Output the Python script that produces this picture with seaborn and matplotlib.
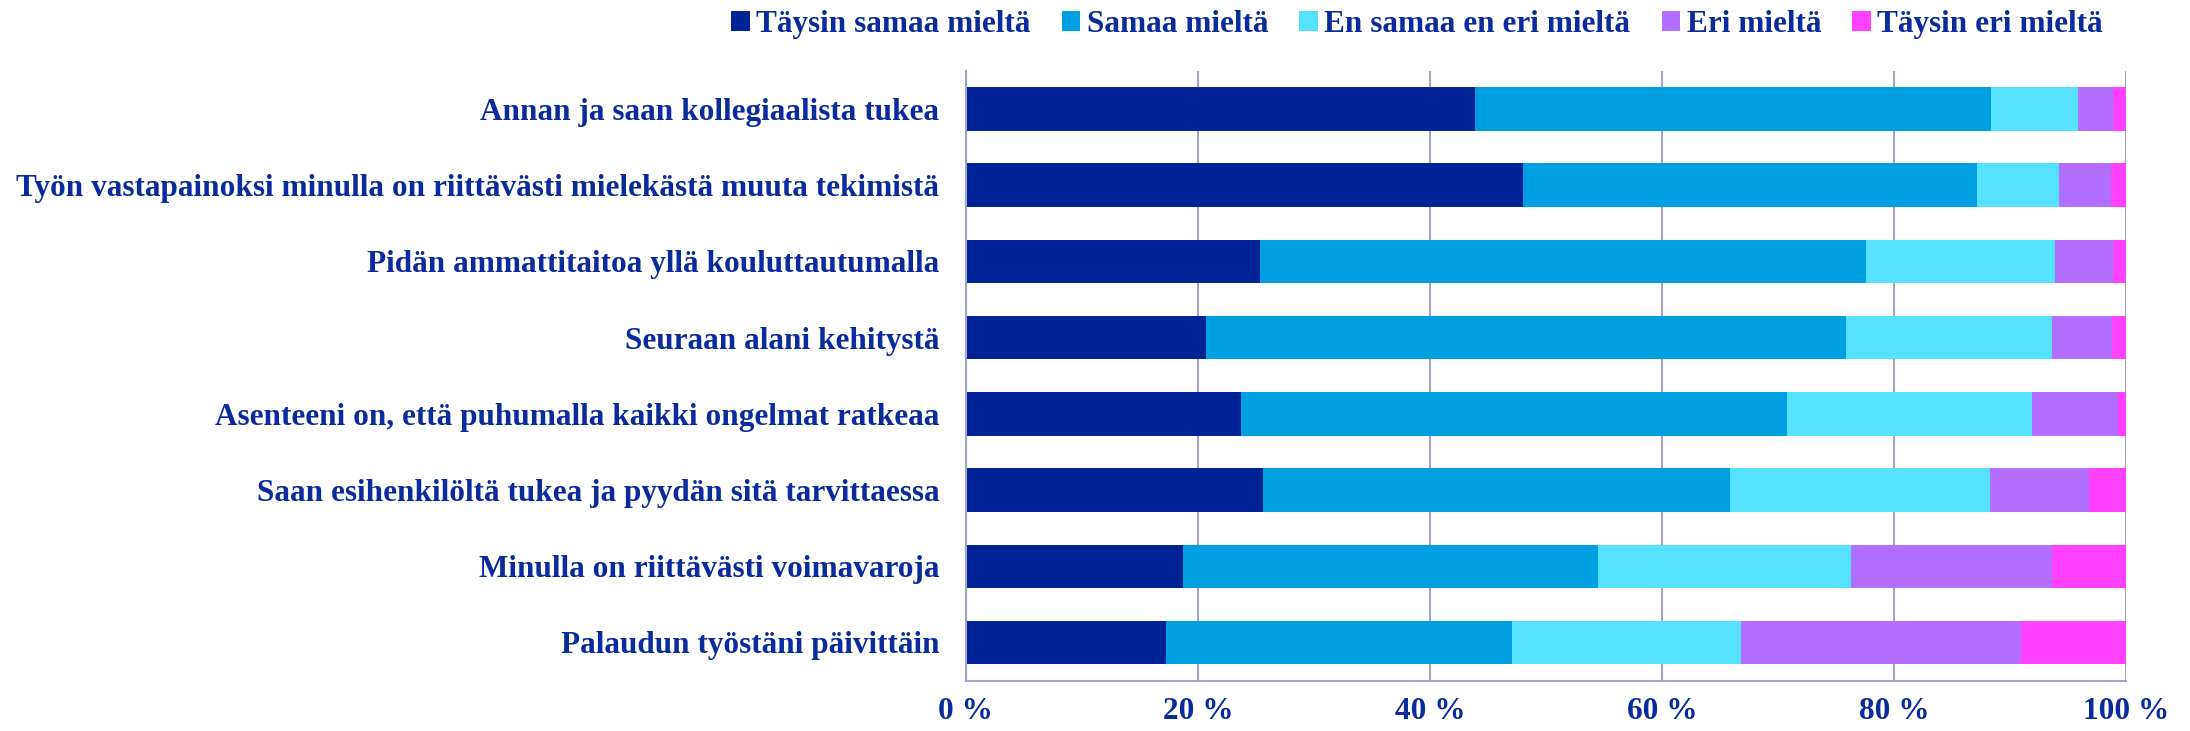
import matplotlib
matplotlib.use("Agg")
import matplotlib.pyplot as plt
from matplotlib.patches import Patch
import numpy as np
import pandas as pd
import seaborn as sns

# Väittämät (ylhäältä alas)
statements = [
    "Annan ja saan kollegiaalista tukea",
    "Työn vastapainoksi minulla on riittävästi mielekästä muuta tekimistä",
    "Pidän ammattitaitoa yllä kouluttautumalla",
    "Seuraan alani kehitystä",
    "Asenteeni on, että puhumalla kaikki ongelmat ratkeaa",
    "Saan esihenkilöltä tukea ja pyydän sitä tarvittaessa",
    "Minulla on riittävästi voimavaroja",
    "Palaudun työstäni päivittäin",
]

answers = ["Täysin samaa mieltä", "Samaa mieltä", "En samaa en eri mieltä",
           "Eri mieltä", "Täysin eri mieltä"]

# osuudet prosentteina, luettu kuvasta
taysin_samaa = [43.9, 48.0, 25.4, 20.7, 23.7, 25.6, 18.7, 17.3]
samaa = [44.5, 39.2, 52.2, 55.2, 47.1, 40.3, 35.8, 29.8]
neutraali = [7.5, 7.0, 16.3, 17.7, 21.1, 22.4, 21.8, 19.7]
eri = [3.0, 4.5, 5.0, 5.2, 7.4, 8.5, 17.3, 24.2]
taysin_eri = [1.1, 1.3, 1.1, 1.2, 0.7, 3.2, 6.4, 9.0]

colors = ["#002395", "#00A0E0", "#55E2FF", "#B26FFF", "#FF40FF"]
text_color = "#0B2A9C"
grid_color = "#A3A3C4"
FS = 22.5

df = pd.DataFrame({
    "statement": statements,
    answers[0]: taysin_samaa,
    answers[1]: samaa,
    answers[2]: neutraali,
    answers[3]: eri,
    answers[4]: taysin_eri,
})
# skaalataan 100 %:iin ja lasketaan kumulatiiviset summat
vals = df[answers].to_numpy()
vals = vals / vals.sum(axis=1, keepdims=True) * 100
cum = np.cumsum(vals, axis=1)

sns.set_style("white")
plt.rcParams["font.family"] = ["Liberation Serif", "DejaVu Serif"]

fig = plt.figure(figsize=(21.9, 7.31), dpi=100)
ax = fig.add_axes([0.441, 0.069, 0.5297, 0.834])

# piirretään pisimmästä lyhimpään, jolloin palkit pinoutuvat
for i in reversed(range(len(answers))):
    sns.barplot(x=cum[:, i], y=statements, orient="h", color=colors[i],
                saturation=1, width=0.57, edgecolor="none", linewidth=0, ax=ax)

ax.set_xlim(0, 100)
ax.set_ylim(len(statements) - 0.5, -0.5)
ax.set_xticks(range(0, 101, 20))
ax.set_xticklabels([f"{v} %" for v in range(0, 101, 20)])
ax.set_xlabel("")
ax.set_ylabel("")
ax.set_axisbelow(True)
ax.grid(axis="x", color=grid_color, linewidth=1.5)

for side in ["top", "right"]:
    ax.spines[side].set_visible(False)
for side in ["left", "bottom"]:
    ax.spines[side].set_color(grid_color)
    ax.spines[side].set_linewidth(1.5)

ax.set_yticks(np.arange(-0.5, len(statements), 1), minor=True)
ax.tick_params(axis="y", which="major", length=0, pad=19)
ax.tick_params(axis="y", which="minor", length=6, width=1.5, color=grid_color, direction="out")
ax.tick_params(axis="x", which="major", length=6, width=1.5, color=grid_color, direction="out", pad=6)

for lab in ax.get_yticklabels() + ax.get_xticklabels():
    lab.set_color(text_color)
    lab.set_fontweight("bold")
    lab.set_fontsize(FS)

handles = [Patch(facecolor=c, edgecolor="none") for c in colors]
fig.legend(handles, answers, loc="center", bbox_to_anchor=(0.647, 0.967), ncol=5,
           frameon=False, handlelength=0.6, handleheight=0.6, handletextpad=0.2,
           columnspacing=1.0, prop={"weight": "bold", "size": FS},
           labelcolor=text_color)

fig.savefig("out.png", dpi=100)
